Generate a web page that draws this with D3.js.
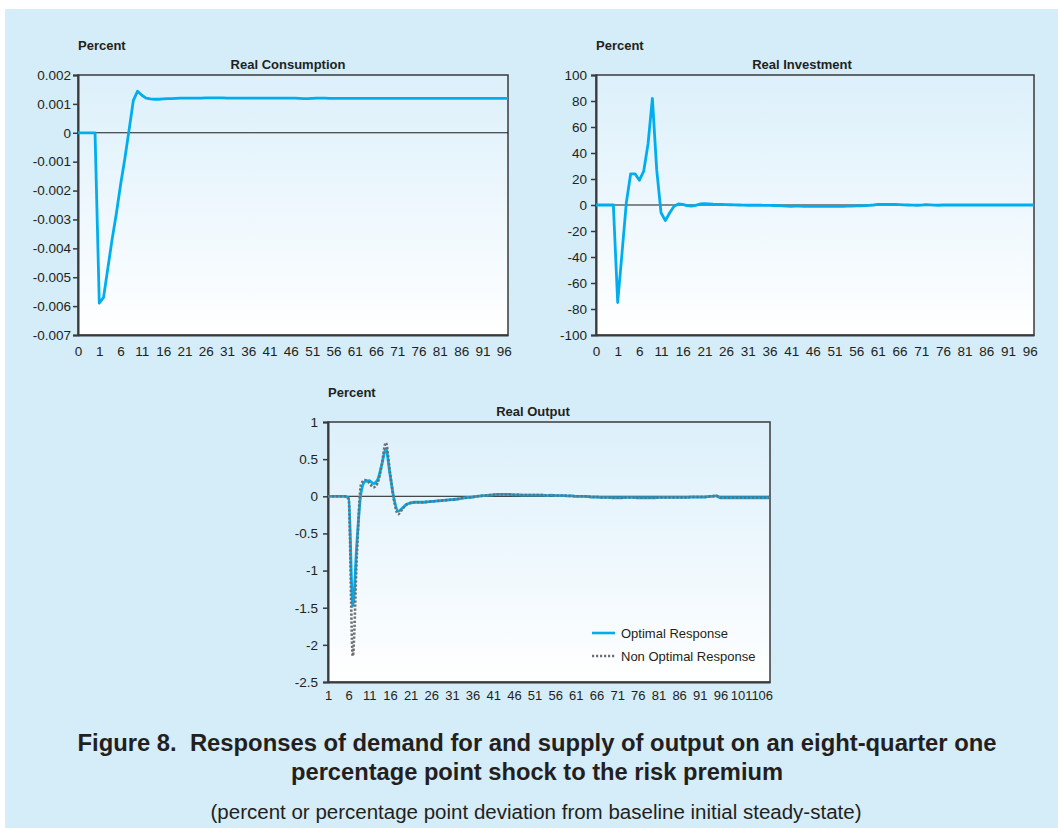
<!DOCTYPE html>
<html>
<head>
<meta charset="utf-8">
<script src="https://cdn.jsdelivr.net/npm/d3@7"></script>
<style>
  html, body { margin: 0; padding: 0; background: #ffffff; }
  svg { display: block; }
  text { font-family: "Liberation Sans", Arial, sans-serif; fill: #231f20; }
</style>
</head>
<body>
<svg id="chart" width="1058" height="828"></svg>
<script>
// ---------------- DATA ----------------
// Panel 1 & 2 : 102 periods, labels shown every 5th period
const periodTickIdx12 = [0, 5, 10, 15, 20, 25, 30, 35, 40, 45, 50, 55, 60, 65, 70, 75, 80, 85, 90, 95, 100];
const periodTickLabels12 = ["0", "1", "6", "11", "16", "21", "26", "31", "36", "41", "46", "51", "56", "61", "66", "71", "76", "81", "86", "91", "96"];

const consumption = [
  0, 0, 0, 0, 0, -0.0059, -0.0057, -0.0047, -0.0037, -0.0028,
  -0.0018, -0.0009, 0.0001, 0.00112, 0.00144, 0.0013, 0.0012, 0.00117, 0.00116, 0.00116,
  0.00117, 0.00118, 0.00118, 0.00119, 0.0012, 0.0012, 0.0012, 0.0012, 0.0012, 0.0012,
  0.00121, 0.00121, 0.00121, 0.00121, 0.00121, 0.0012, 0.0012, 0.0012, 0.0012, 0.0012,
  0.0012, 0.0012, 0.0012, 0.0012, 0.0012, 0.0012, 0.0012, 0.0012, 0.0012, 0.0012,
  0.0012, 0.0012, 0.00119, 0.00118, 0.00118, 0.00119, 0.0012, 0.0012, 0.0012, 0.00119,
  0.00119, 0.00119, 0.00119, 0.00119, 0.00119, 0.00119, 0.00119, 0.00119, 0.00119, 0.00119,
  0.00119, 0.00119, 0.00119, 0.00119, 0.00119, 0.00119, 0.00119, 0.00119, 0.00119, 0.00119,
  0.00119, 0.00119, 0.00119, 0.00119, 0.00119, 0.00119, 0.00119, 0.00119, 0.00119, 0.00119,
  0.00119, 0.00119, 0.00119, 0.00119, 0.00119, 0.00119, 0.00119, 0.00119, 0.00119, 0.00119,
  0.00119, 0.00119
];
const consTicks = [0.002, 0.001, 0, -0.001, -0.002, -0.003, -0.004, -0.005, -0.006, -0.007];
const consTickLabels = ["0.002", "0.001", "0", "-0.001", "-0.002", "-0.003", "-0.004", "-0.005", "-0.006", "-0.007"];

const investment = [
  0, 0, 0, 0, 0, -75, -37, 2, 24, 24,
  19, 26, 47, 82, 27, -6, -12, -6, -1, 0.8,
  0.5, -0.5, -0.8, -0.3, 0.8, 1, 0.8, 0.6, 0.5, 0.4,
  0.3, 0.2, 0.1, 0, -0.1, -0.2, -0.2, -0.2, -0.2, -0.3,
  -0.3, -0.4, -0.5, -0.6, -0.8, -1, -0.9, -0.8, -1, -1,
  -1, -1, -1, -1, -1, -1, -1, -1, -0.9, -0.8,
  -0.7, -0.6, -0.5, -0.3, 0, 0.4, 0.5, 0.5, 0.5, 0.4,
  0.3, 0.1, 0, -0.1, -0.2, -0.1, 0.3, 0.1, -0.1, -0.2,
  0, 0, 0, 0, 0, 0, 0, 0, 0, 0,
  0, 0, 0, 0, 0, 0, 0, 0, 0, 0,
  0, 0
];
const invTicks = [100, 80, 60, 40, 20, 0, -20, -40, -60, -80, -100];
const invTickLabels = ["100", "80", "60", "40", "20", "0", "-20", "-40", "-60", "-80", "-100"];

// Panel 3 : 108 periods
const periodTickIdx3 = [0, 5, 10, 15, 20, 25, 30, 35, 40, 45, 50, 55, 60, 65, 70, 75, 80, 85, 90, 95, 100, 105];
const periodTickLabels3 = ["1", "6", "11", "16", "21", "26", "31", "36", "41", "46", "51", "56", "61", "66", "71", "76", "81", "86", "91", "96", "101", "106"];

const outputOptimal = [
  0, 0, 0, 0, 0, -0.02, -1.48, -0.62, 0.05, 0.2,
  0.21, 0.17, 0.22, 0.42, 0.64, 0.3, -0.04, -0.2, -0.16, -0.11,
  -0.09, -0.08, -0.08, -0.08, -0.075, -0.07, -0.065, -0.06, -0.055, -0.05,
  -0.045, -0.04, -0.03, -0.02, -0.015, -0.01, 0, 0.005, 0.01, 0.015,
  0.02, 0.025, 0.025, 0.025, 0.025, 0.02, 0.02, 0.015, 0.015, 0.015,
  0.015, 0.015, 0.015, 0.01, 0.015, 0.01, 0.01, 0.01, 0.005, 0.005,
  0, 0, 0, -0.005, -0.01, -0.01, -0.015, -0.015, -0.015, -0.02,
  -0.02, -0.02, -0.015, -0.015, -0.015, -0.02, -0.02, -0.02, -0.02, -0.02,
  -0.015, -0.015, -0.015, -0.015, -0.015, -0.015, -0.015, -0.015, -0.01, -0.01,
  -0.01, -0.01, -0.005, 0, 0.005, -0.02, -0.02, -0.02, -0.02, -0.02,
  -0.02, -0.02, -0.02, -0.02, -0.02, -0.02, -0.02, -0.02
];
const outputNonOptimal = [
  0, 0, 0, 0, 0, -0.04, -2.15, -0.78, 0.16, 0.22,
  0.18, 0.12, 0.18, 0.42, 0.72, 0.32, -0.06, -0.24, -0.17, -0.11,
  -0.09, -0.08, -0.08, -0.08, -0.075, -0.07, -0.065, -0.06, -0.055, -0.05,
  -0.045, -0.04, -0.03, -0.02, -0.015, -0.01, 0, 0.005, 0.01, 0.015,
  0.02, 0.025, 0.025, 0.025, 0.025, 0.02, 0.02, 0.015, 0.015, 0.015,
  0.015, 0.015, 0.015, 0.01, 0.015, 0.01, 0.01, 0.01, 0.005, 0.005,
  0, 0, 0, -0.005, -0.01, -0.01, -0.015, -0.015, -0.015, -0.02,
  -0.02, -0.02, -0.015, -0.015, -0.015, -0.02, -0.02, -0.02, -0.02, -0.02,
  -0.015, -0.015, -0.015, -0.015, -0.015, -0.015, -0.015, -0.015, -0.01, -0.01,
  -0.01, -0.01, -0.005, 0, 0.005, -0.02, -0.02, -0.02, -0.02, -0.02,
  -0.02, -0.02, -0.02, -0.02, -0.02, -0.02, -0.02, -0.02
];
const outTicks = [1, 0.5, 0, -0.5, -1, -1.5, -2, -2.5];
const outTickLabels = ["1", "0.5", "0", "-0.5", "-1", "-1.5", "-2", "-2.5"];

const seriesNames = ["Optimal Response", "Non Optimal Response"];
const captionLines = [
  "Figure 8.\u00a0 Responses of demand for and supply of output on an eight-quarter one",
  "percentage point shock to the risk premium"
];
const subCaption = "(percent or percentage point deviation from baseline initial steady-state)";

// ---------------- DRAWING ----------------
const svg = d3.select("#chart");
const BLUE = "#00aeef";
const GREY = "#6d6e71";

svg.append("rect").attr("x", 0).attr("y", 0).attr("width", 1058).attr("height", 828).attr("fill", "#ffffff");
svg.append("rect").attr("x", 5).attr("y", 9).attr("width", 1053).attr("height", 819).attr("fill", "#d5ecf9");

const defs = svg.append("defs");
const grad = defs.append("linearGradient").attr("id", "plotGrad")
  .attr("x1", 0).attr("y1", 0).attr("x2", 0).attr("y2", 1);
grad.append("stop").attr("offset", "0%").attr("stop-color", "#dcf0fb");
grad.append("stop").attr("offset", "100%").attr("stop-color", "#ffffff");

function panel(cfg) {
  const g = svg.append("g");
  const x = d3.scalePoint().domain(d3.range(cfg.n)).range([cfg.left, cfg.right]);
  const y = d3.scaleLinear().domain(cfg.yDomain).range([cfg.bottom, cfg.top]);

  g.append("rect").attr("x", cfg.left).attr("y", cfg.top)
    .attr("width", cfg.right - cfg.left).attr("height", cfg.bottom - cfg.top)
    .attr("fill", "url(#plotGrad)").attr("stroke", "#3a3a3a").attr("stroke-width", 1.5);

  // zero line
  g.append("line").attr("x1", cfg.left).attr("x2", cfg.right)
    .attr("y1", y(0)).attr("y2", y(0)).attr("stroke", "#1a1a1a").attr("stroke-width", 1);

  // y axis
  const ya = d3.axisLeft(y).tickValues(cfg.yTicks)
    .tickFormat((d, i) => cfg.yLabels[i]).tickSize(5).tickPadding(cfg.yPad);
  const yg = g.append("g").attr("transform", `translate(${cfg.left},0)`).call(ya);
  yg.select(".domain").attr("stroke", "#3a3a3a").attr("stroke-width", 2);
  yg.selectAll(".tick line").attr("stroke", "#3a3a3a").attr("stroke-width", 1.5);
  yg.selectAll("text").attr("font-size", 13.5).attr("fill", "#333").attr("font-family", "Liberation Sans, Arial, sans-serif");

  // x axis
  const xa = d3.axisBottom(x).tickValues(cfg.xTickIdx)
    .tickFormat((d, i) => cfg.xLabels[i]).tickSize(0).tickPadding(cfg.xPad);
  const xg = g.append("g").attr("transform", `translate(0,${cfg.bottom})`).call(xa);
  xg.select(".domain").attr("stroke", "#3a3a3a").attr("stroke-width", 2);
  xg.selectAll("text").attr("font-size", cfg.xFont).attr("fill", "#333").attr("font-family", "Liberation Sans, Arial, sans-serif");

  // series
  const line = d3.line().x((d, i) => x(i)).y(d => y(d)).curve(cfg.curve || d3.curveLinear);
  cfg.series.forEach(s => {
    g.append("path").datum(s.values).attr("d", line)
      .attr("fill", "none").attr("stroke", s.color).attr("stroke-width", s.width)
      .attr("stroke-dasharray", s.dash || null).attr("stroke-linejoin", "round");
  });

  // labels
  g.append("text").attr("x", cfg.left).attr("y", cfg.top - 25)
    .attr("font-size", 13).attr("font-weight", "bold").text("Percent");
  g.append("text").attr("x", cfg.titleX).attr("y", cfg.top - 6)
    .attr("text-anchor", "middle").attr("font-size", 13).attr("font-weight", "bold").text(cfg.title);
  return { g, x, y };
}

panel({
  n: consumption.length, left: 78, right: 508, top: 75, bottom: 335,
  yDomain: [-0.007, 0.002], yTicks: consTicks, yLabels: consTickLabels, yPad: 2,
  xTickIdx: periodTickIdx12, xLabels: periodTickLabels12, xPad: 11, xFont: 13.5,
  title: "Real Consumption", titleX: 288,
  series: [{ values: consumption, color: BLUE, width: 2.8 }]
});

panel({
  n: investment.length, left: 596, right: 1034, top: 75, bottom: 335,
  yDomain: [-100, 100], yTicks: invTicks, yLabels: invTickLabels, yPad: 4,
  xTickIdx: periodTickIdx12, xLabels: periodTickLabels12, xPad: 11, xFont: 13.5,
  title: "Real Investment", titleX: 802,
  series: [{ values: investment, color: BLUE, width: 2.8 }]
});

panel({
  n: outputOptimal.length, left: 328, right: 770, top: 422, bottom: 682,
  yDomain: [-2.5, 1], yTicks: outTicks, yLabels: outTickLabels, yPad: 5,
  xTickIdx: periodTickIdx3, xLabels: periodTickLabels3, xPad: 9, xFont: 13,
  title: "Real Output", titleX: 533,
  curve: d3.curveMonotoneX,
  series: [
    { values: outputOptimal, color: BLUE, width: 2.8 },
    { values: outputNonOptimal, color: GREY, width: 2.6, dash: "2.2,1.8" }
  ]
});

// legend
const lg = svg.append("g");
[{ y: 633, color: BLUE, dash: null }, { y: 656, color: GREY, dash: "2.2,1.8" }].forEach((d, i) => {
  lg.append("line").attr("x1", 592).attr("x2", 615).attr("y1", d.y).attr("y2", d.y)
    .attr("stroke", d.color).attr("stroke-width", 2.6).attr("stroke-dasharray", d.dash);
  lg.append("text").attr("x", 621).attr("y", d.y + 4.5).attr("font-size", 13).attr("fill", "#333")
    .text(seriesNames[i]);
});

// caption
svg.append("text").attr("x", 537).attr("y", 751).attr("text-anchor", "middle")
  .attr("font-size", 23).attr("font-weight", "bold").attr("textLength", 919).attr("lengthAdjust", "spacingAndGlyphs")
  .text(captionLines[0]);
svg.append("text").attr("x", 537).attr("y", 780).attr("text-anchor", "middle")
  .attr("font-size", 23).attr("font-weight", "bold").attr("textLength", 492).attr("lengthAdjust", "spacingAndGlyphs")
  .text(captionLines[1]);
svg.append("text").attr("x", 536).attr("y", 819).attr("text-anchor", "middle")
  .attr("font-size", 20).attr("fill", "#333").attr("textLength", 651).attr("lengthAdjust", "spacingAndGlyphs")
  .text(subCaption);
</script>
</body>
</html>
